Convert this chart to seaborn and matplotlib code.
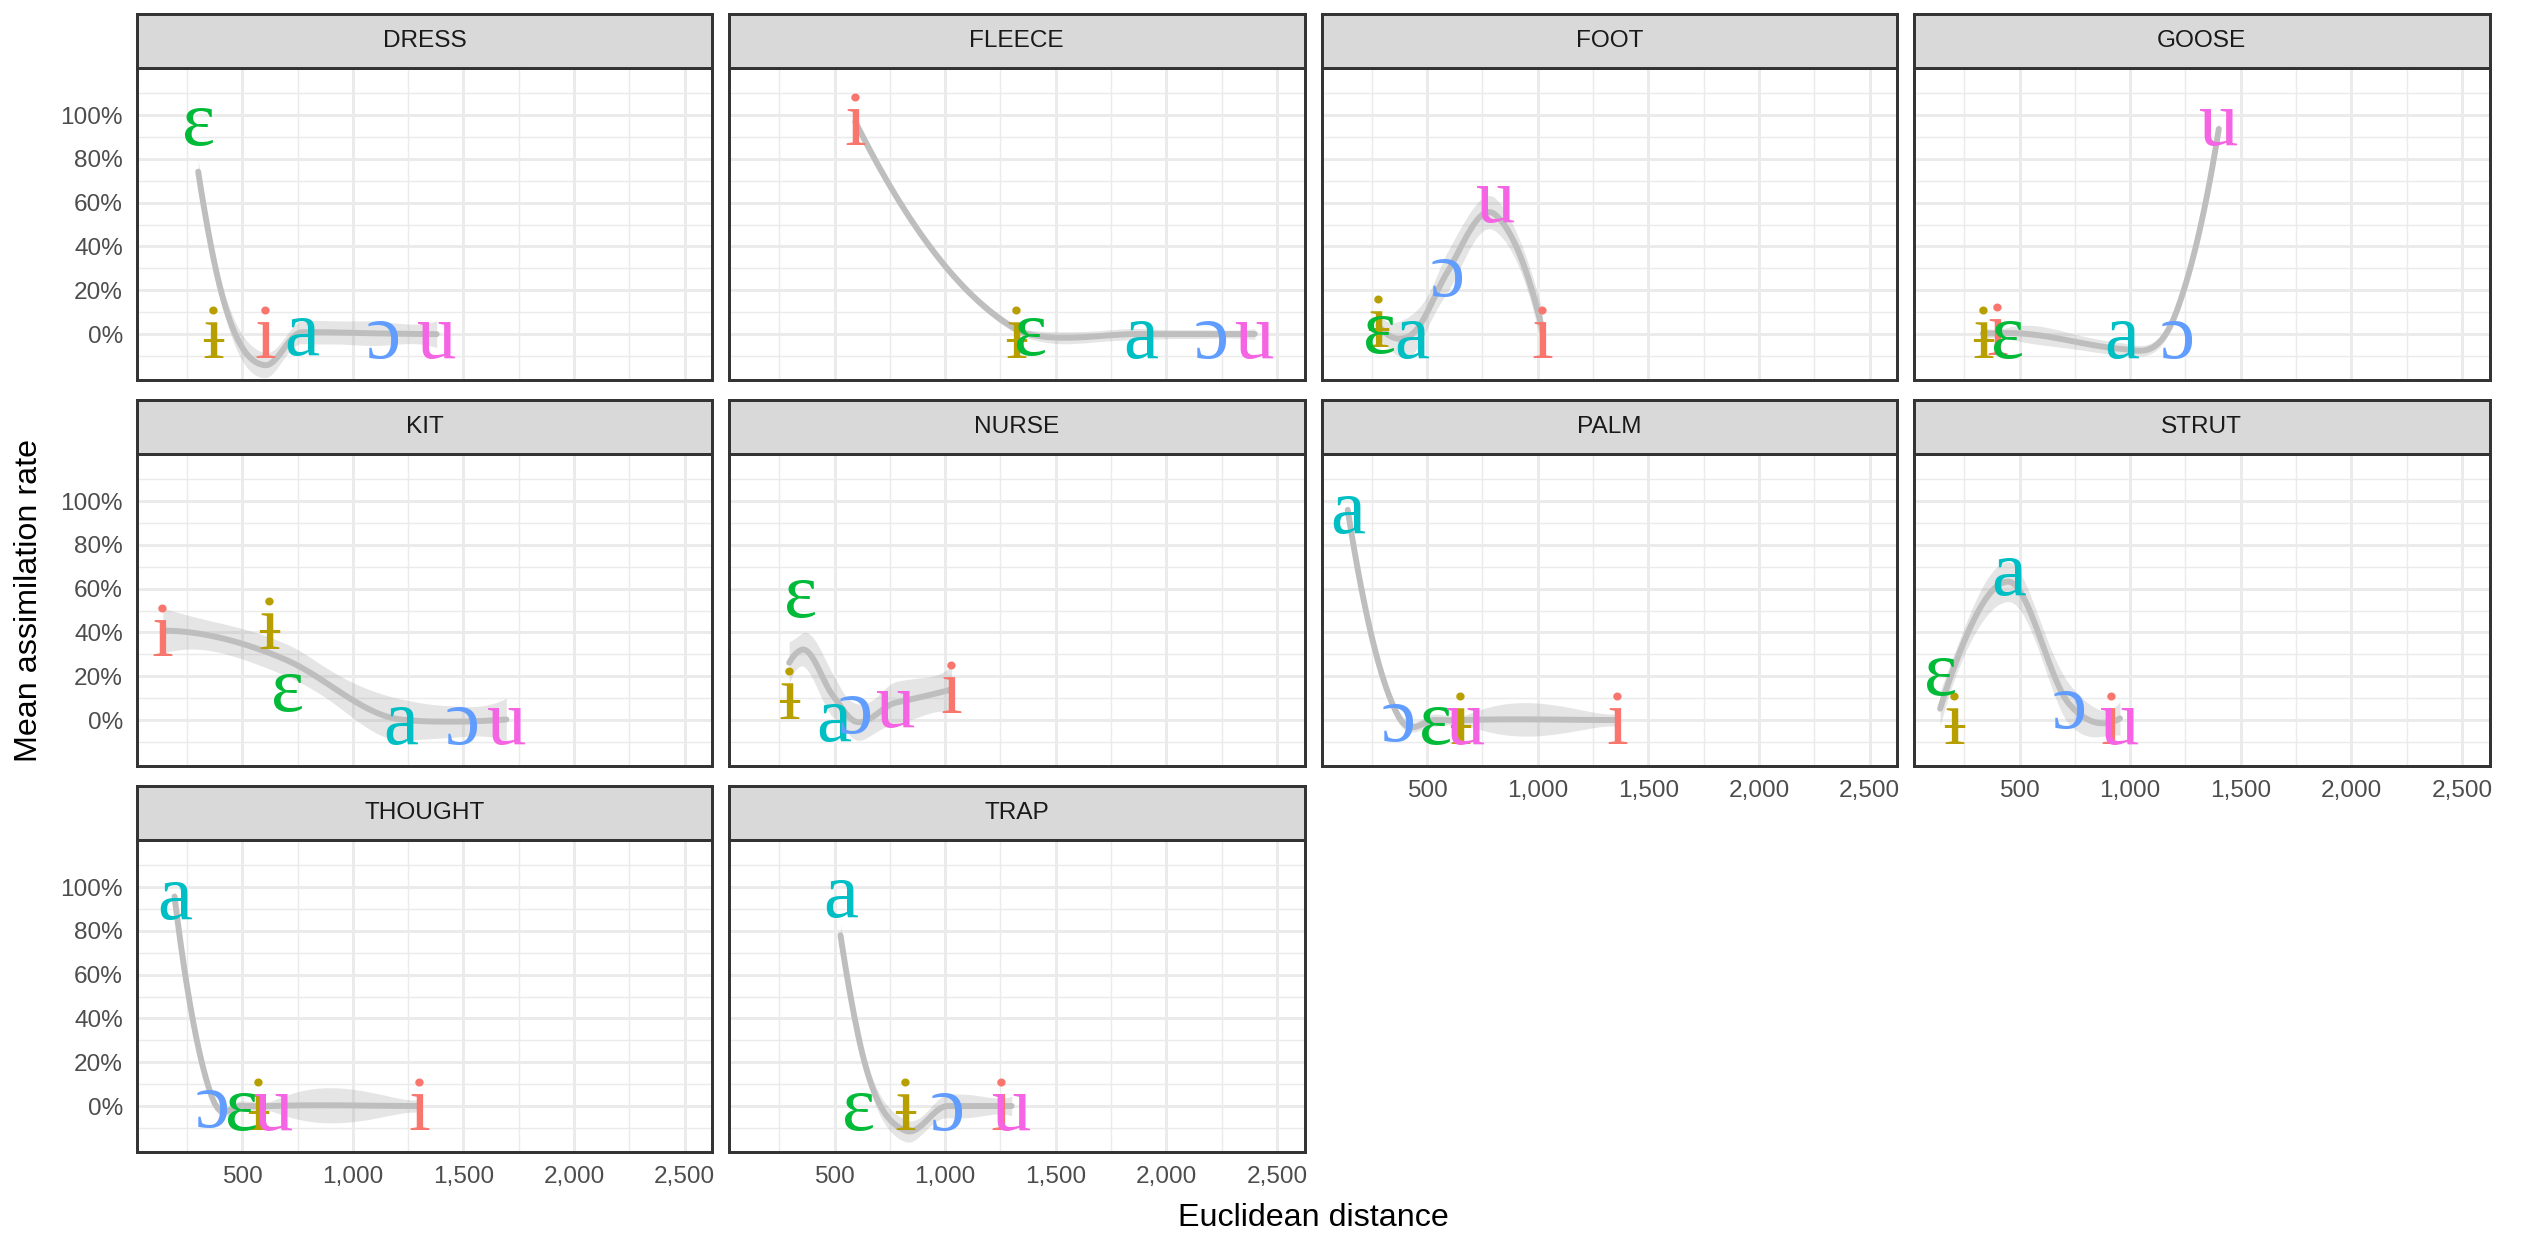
import numpy as np
import pandas as pd
import matplotlib
matplotlib.use("Agg")
import matplotlib.pyplot as plt
import matplotlib.transforms as mtransforms
import seaborn as sns
from math import lgamma, log, pi

# ---------------- data ----------------
VOWELS = ["i", "ɨ", "ɛ", "a", "ɔ", "u"]
VOWEL_COLORS = ["#F8766D", "#B79F00", "#00BA38", "#00BFC4", "#619CFF", "#F564E3"]
PANELS = ["DRESS", "FLEECE", "FOOT", "GOOSE", "KIT", "NURSE", "PALM", "STRUT", "THOUGHT", "TRAP"]

# values in vowel order: i, ɨ, ɛ, a, ɔ, u
DRESS_dist = [603, 369, 301, 769, 1138, 1379]
DRESS_rate = [0.0, 0.0, 0.97, 0.01, 0.0, 0.0]
FLEECE_dist = [594, 1322, 1385, 1885, 2202, 2400]
FLEECE_rate = [0.97, 0.0, 0.01, 0.0, 0.0, 0.0]
FOOT_dist = [1022, 280, 285, 432, 590, 808]
FOOT_rate = [0.0, 0.05, 0.02, 0.0, 0.28, 0.62]
GOOSE_dist = [401, 334, 446, 960, 1212, 1401]
GOOSE_rate = [0.01, 0.0, 0.0, 0.0, 0.0, 0.97]
KIT_dist = [141, 621, 705, 1215, 1493, 1694]
KIT_rate = [0.40, 0.43, 0.15, 0.0, 0.0, 0.0]
NURSE_dist = [1029, 295, 348, 496, 594, 777]
NURSE_rate = [0.14, 0.11, 0.58, 0.01, 0.05, 0.075]
PALM_dist = [1359, 648, 537, 141, 371, 674]
PALM_rate = [0.0, 0.0, 0.0, 0.96, 0.01, 0.0]
STRUT_dist = [914, 203, 141, 450, 725, 954]
STRUT_rate = [0.0, 0.0, 0.22, 0.68, 0.07, 0.0]
THOUGHT_dist = [1299, 573, 495, 194, 363, 643]
THOUGHT_rate = [0.0, 0.0, 0.0, 0.96, 0.01, 0.0]
TRAP_dist = [1252, 821, 607, 527, 1011, 1301]
TRAP_rate = [0.0, 0.0, 0.0, 0.97, 0.0, 0.0]

# estimated number of responses behind each mean (controls ribbon width)
N_PER_VOWEL = 40

X_BREAKS = [500, 1000, 1500, 2000, 2500]
X_LABELS = ["500", "1,000", "1,500", "2,000", "2,500"]
Y_BREAKS = [0.0, 0.2, 0.4, 0.6, 0.8, 1.0]
Y_LABELS = ["0%", "20%", "40%", "60%", "80%", "100%"]

dist_arrays = [DRESS_dist, FLEECE_dist, FOOT_dist, GOOSE_dist, KIT_dist,
               NURSE_dist, PALM_dist, STRUT_dist, THOUGHT_dist, TRAP_dist]
rate_arrays = [DRESS_rate, FLEECE_rate, FOOT_rate, GOOSE_rate, KIT_rate,
               NURSE_rate, PALM_rate, STRUT_rate, THOUGHT_rate, TRAP_rate]

rows = []
for p, d, r in zip(PANELS, dist_arrays, rate_arrays):
    for v, dd, rr in zip(VOWELS, d, r):
        rows.append({"panel": p, "vowel": v, "distance": dd, "rate": rr})
df = pd.DataFrame(rows)
color_of = dict(zip(VOWELS, VOWEL_COLORS))


# ------- loess as in R (local quadratic, tricube, span .75, kd-tree vertices +
# cubic Hermite interpolation), on grouped responses -------
def vertex_rows(x, x0, m, span=0.75):
    g = len(x)
    n = g * m
    q = int(np.floor(n * span))
    k = int(np.ceil(q / m))
    d = np.abs(x - x0)
    ds = np.sort(d)
    rho = max(ds[min(k, g) - 1], 1e-9)
    w = np.clip(1 - (d / rho) ** 3, 0, 1) ** 3
    t = (x - x0) / rho
    X = np.column_stack([np.ones(g), t, t ** 2])
    A = X.T @ (w[:, None] * X)
    B = np.linalg.pinv(A, rcond=1e-10) @ (X.T * w)
    return B[0], B[1] / rho


def loess_operator(x, xs, m):
    verts = np.unique(x)
    vals, slopes = zip(*[vertex_rows(x, v, m) for v in verts])
    vals, slopes = np.array(vals), np.array(slopes)
    out = []
    for x0 in xs:
        j = int(np.clip(np.searchsorted(verts, x0, side="right") - 1, 0, len(verts) - 2))
        h = verts[j + 1] - verts[j]
        t = (x0 - verts[j]) / h
        h00 = 2 * t ** 3 - 3 * t ** 2 + 1
        h10 = t ** 3 - 2 * t ** 2 + t
        h01 = -2 * t ** 3 + 3 * t ** 2
        h11 = t ** 3 - t ** 2
        out.append(h00 * vals[j] + h10 * h * slopes[j] + h01 * vals[j + 1] + h11 * h * slopes[j + 1])
    return np.array(out)


def t_q975(dfree):
    dfree = max(dfree, 1.0)
    ts = np.linspace(0, 400, 400001)
    logc = lgamma((dfree + 1) / 2) - lgamma(dfree / 2) - 0.5 * log(dfree * pi)
    pdf = np.exp(logc) * (1 + ts ** 2 / dfree) ** (-(dfree + 1) / 2)
    cdf = 0.5 + np.concatenate([[0], np.cumsum((pdf[1:] + pdf[:-1]) / 2 * np.diff(ts))])
    return float(np.interp(0.975, cdf, ts))


def smooth(x, y, m, npts=80):
    x = np.asarray(x, float)
    y = np.asarray(y, float)
    xs = np.linspace(x.min(), x.max(), npts)
    Lg = loess_operator(x, xs, m)
    Ld = loess_operator(x, x, m)
    fit = Lg @ y
    fitted = Ld @ y
    n = len(x) * m
    rss = float(np.sum(m * (y * (1 - y) + (y - fitted) ** 2)))
    d1 = n - 2 * np.trace(Ld) + np.sum(Ld ** 2)
    sigma = np.sqrt(rss / d1)
    tq = t_q975(d1)
    se = sigma * np.sqrt((Lg ** 2).sum(axis=1) / m)
    return xs, fit, fit - tq * se, fit + tq * se


# ---------------- figure ----------------
sns.set_style("white")
plt.rcParams["font.family"] = ["Liberation Sans", "DejaVu Sans"]

W, H, DPI = 2525, 1234, 200
fig = plt.figure(figsize=(W / DPI, H / DPI), dpi=DPI)


def rect(left, top, w, h):
    return [left / W, 1 - (top + h) / H, w / W, h / H]


col_left = [136.7, 729.0, 1321.6, 1914.0]
pw = 575.6
row_top = [14.0, 400.0, 786.0]
strip_h = 54.0
panel_h = 312.0

LW = 1.07
DARK = "#333333"
XLIM = (23, 2625)
YLIM = (-0.21, 1.215)
bottom_panels = {6, 7, 8, 9}

for k, pname in enumerate(PANELS):
    r, c = divmod(k, 4)
    left = col_left[c]
    top = row_top[r]
    ax = fig.add_axes(rect(left, top + strip_h, pw, panel_h))
    sax = fig.add_axes(rect(left, top, pw, strip_h))

    # strip
    sax.set_facecolor("#D9D9D9")
    sax.set_xticks([])
    sax.set_yticks([])
    for s in sax.spines.values():
        s.set_color(DARK)
        s.set_linewidth(LW)
    sax.text(0.5, 0.5, pname, ha="center", va="center", fontsize=8.8,
             color="#1A1A1A", transform=sax.transAxes)

    # panel
    ax.set_facecolor("white")
    ax.set_xlim(*XLIM)
    ax.set_ylim(*YLIM)
    ax.set_xticks(X_BREAKS)
    ax.set_xticks([250, 750, 1250, 1750, 2250], minor=True)
    ax.set_yticks(Y_BREAKS)
    ax.set_yticks([-0.1, 0.1, 0.3, 0.5, 0.7, 0.9, 1.1], minor=True)
    ax.grid(which="major", color="#EBEBEB", linewidth=LW)
    ax.grid(which="minor", color="#EBEBEB", linewidth=LW / 2)
    ax.set_axisbelow(True)
    for s in ax.spines.values():
        s.set_color(DARK)
        s.set_linewidth(LW)
        s.set_zorder(5)

    ax.tick_params(which="minor", length=0)
    if c == 0:
        ax.set_yticklabels(Y_LABELS)
        ax.tick_params(axis="y", which="major", length=2.74, width=LW, color=DARK,
                       labelcolor="#4D4D4D", labelsize=8.8, pad=2.2)
    else:
        ax.tick_params(axis="y", which="major", length=0, labelleft=False)
    if k in bottom_panels:
        ax.set_xticklabels(X_LABELS)
        ax.tick_params(axis="x", which="major", length=2.74, width=LW, color=DARK,
                       labelcolor="#4D4D4D", labelsize=8.8, pad=2.2)
    else:
        ax.tick_params(axis="x", which="major", length=0, labelbottom=False)

    sub = df[df["panel"] == pname]
    xs, fit, lo, hi = smooth(sub["distance"].values, sub["rate"].values, N_PER_VOWEL)
    ax.fill_between(xs, lo, hi, color="#999999", alpha=0.25, linewidth=0, zorder=2)
    sns.lineplot(x=xs, y=fit, ax=ax, color="#BEBEBE", linewidth=2.13,
                 estimator=None, sort=False, zorder=3)
    ax.set_xlabel("")
    ax.set_ylabel("")

    tr = mtransforms.offset_copy(ax.transData, fig=fig, x=0, y=-4.8, units="dots")
    for _, row in sub.iterrows():
        ax.text(row["distance"], row["rate"], row["vowel"], color=color_of[row["vowel"]],
                fontsize=28.45, family=["Liberation Serif", "DejaVu Serif"],
                ha="center", va="center", transform=tr, clip_on=True, zorder=4)

fig.text(1313 / W, 1 - 1218 / H, "Euclidean distance", ha="center", va="center",
         fontsize=11.6, color="black")
fig.text(29 / W, 1 - 600 / H, "Mean assimilation rate", ha="center", va="center",
         rotation=90, fontsize=11.6, color="black")

fig.savefig("out.png", dpi=DPI)
